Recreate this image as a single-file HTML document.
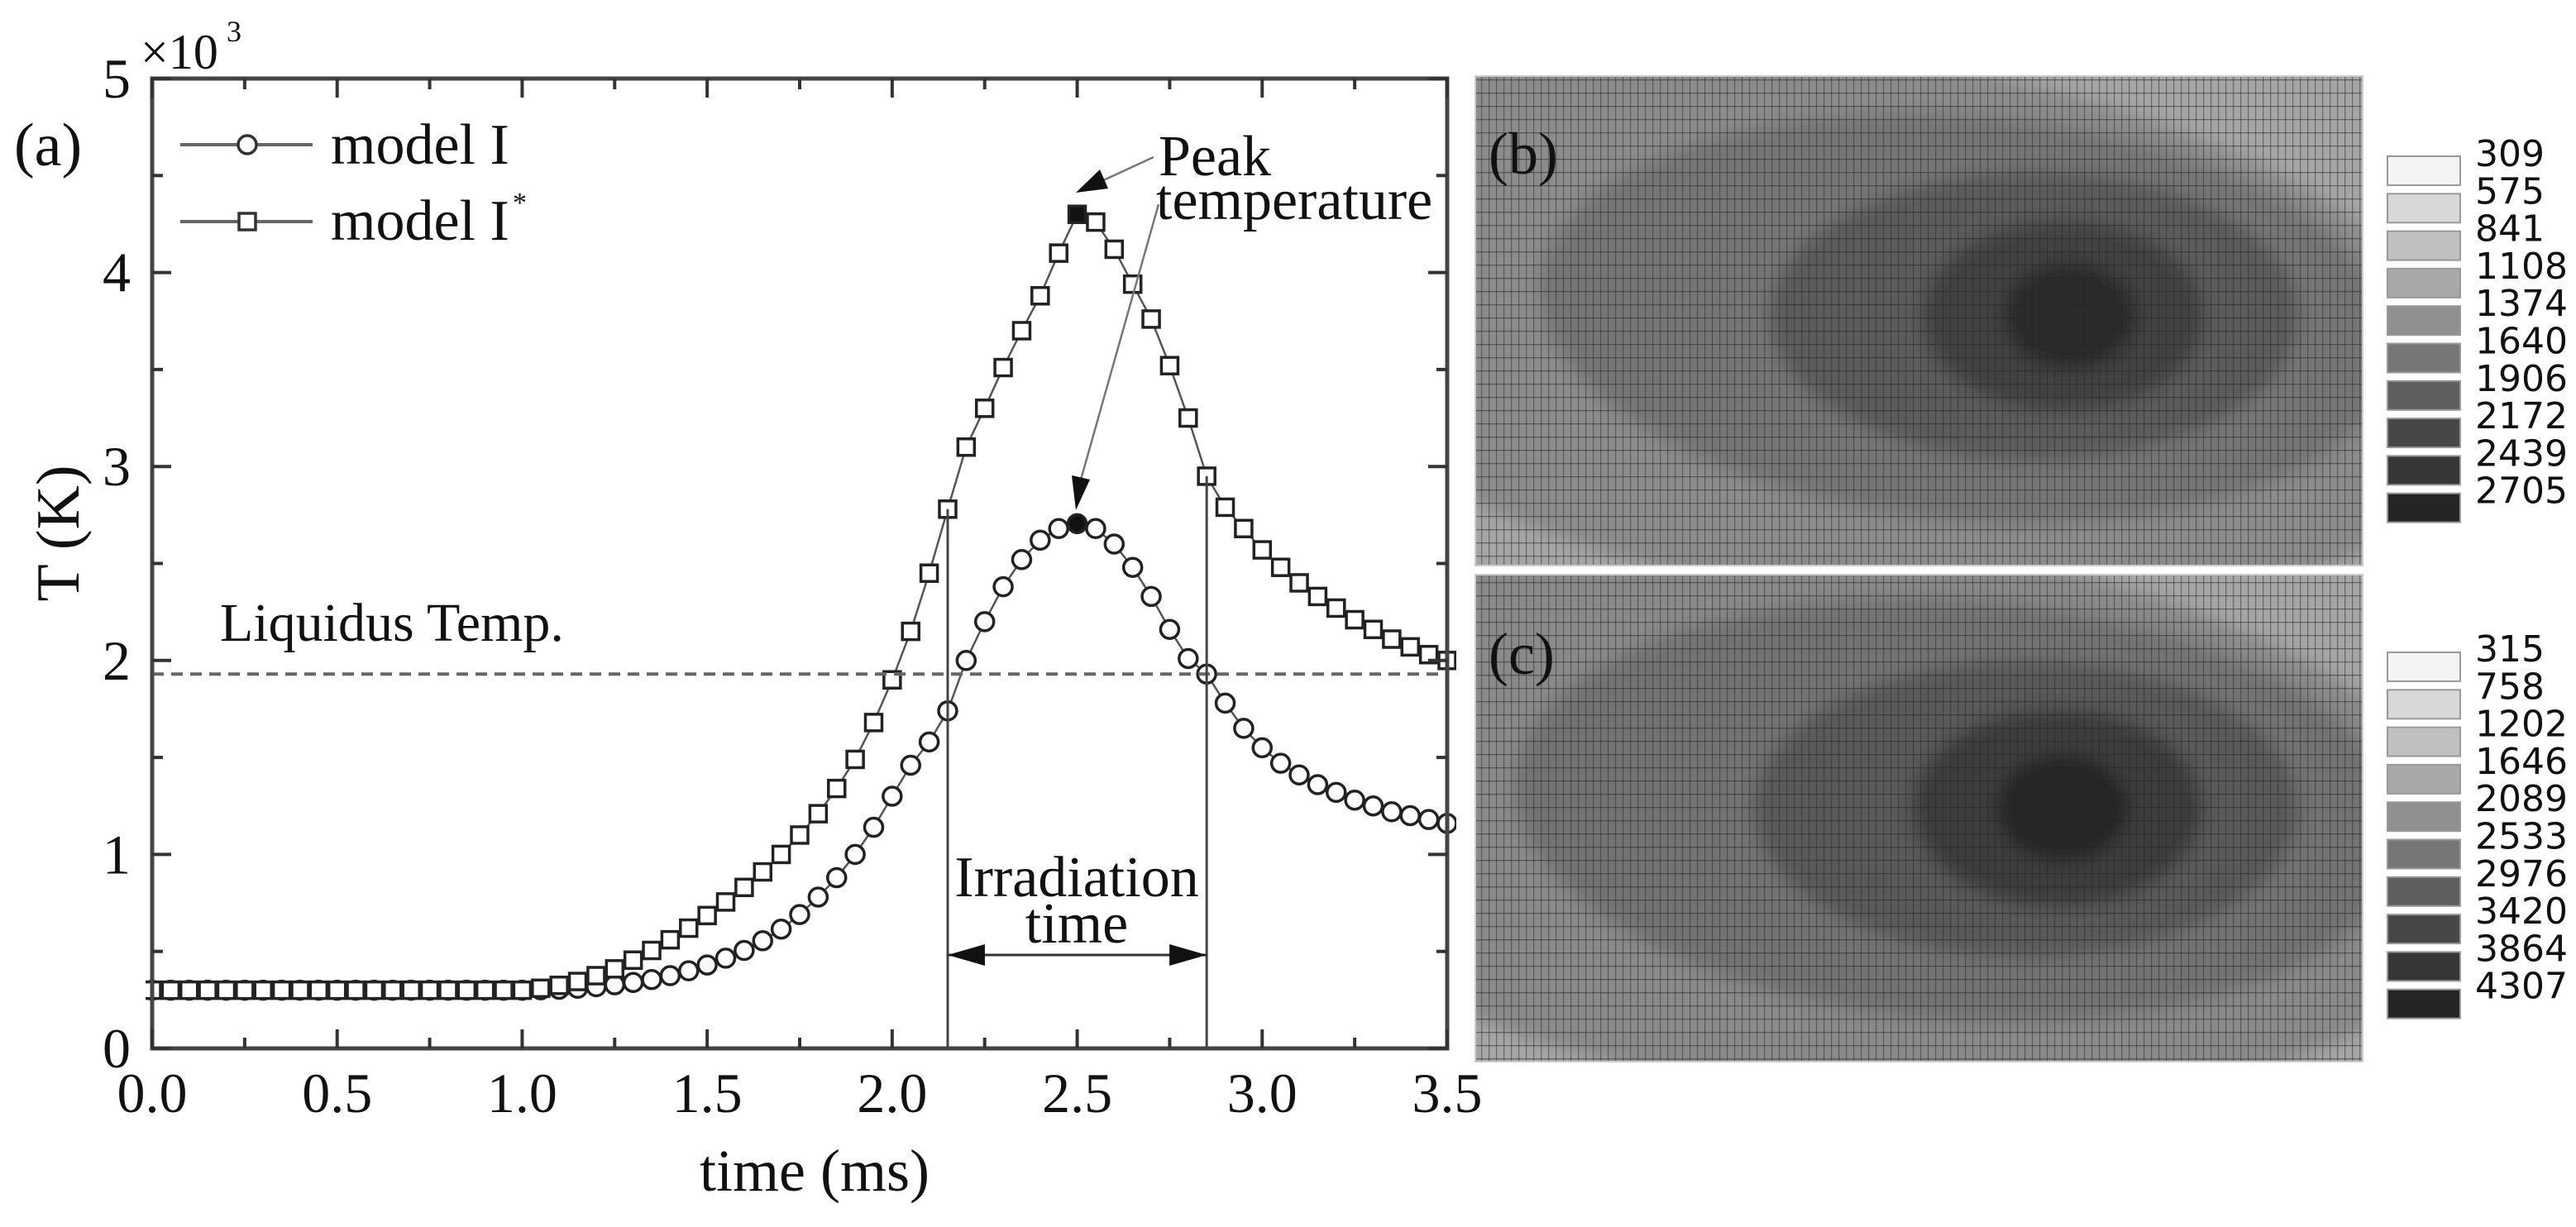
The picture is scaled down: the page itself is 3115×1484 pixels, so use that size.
<!DOCTYPE html>
<html><head><meta charset="utf-8">
<style>
html,body{margin:0;padding:0;background:#fff;}
svg{display:block;}
text{font-family:"Liberation Serif",serif;fill:#111;}
.mono{font-family:"DejaVu Sans","Liberation Sans",sans-serif;}
</style></head>
<body>
<svg id="fig" width="3115" height="1484" viewBox="0 0 3115 1484" xmlns="http://www.w3.org/2000/svg">
<defs>
  <pattern id="mesh" width="9" height="16" patternUnits="userSpaceOnUse">
    <line x1="0.5" y1="0" x2="0.5" y2="16" stroke="#222" stroke-width="1.6" opacity="0.45"/>
    <line x1="0" y1="0.5" x2="9" y2="0.5" stroke="#222" stroke-width="1.6" opacity="0.5"/>
  </pattern>
  <filter id="soft"><feGaussianBlur stdDeviation="10"/></filter>
  <clipPath id="clipB"><rect x="1784" y="92" width="1073" height="592"/></clipPath>
  <clipPath id="clipC"><rect x="1784" y="695" width="1073" height="589"/></clipPath>
  <clipPath id="plotClip"><rect x="176" y="85" width="1585" height="1190"/></clipPath>
</defs>
<g id="chartA"></g>
<g id="panelB" clip-path="url(#clipB)">
  <rect x="1784" y="92" width="1073" height="592" fill="#a6a6a6"/>
  <g filter="url(#soft)">
    <ellipse cx="2250" cy="400" rx="760" ry="330" fill="#8c8c8c" transform="rotate(8 2250 400)"/>
    <ellipse cx="2380" cy="385" rx="520" ry="245" fill="#767676" transform="rotate(5 2380 385)"/>
    <ellipse cx="2460" cy="382" rx="320" ry="175" fill="#5c5c5c"/>
    <ellipse cx="2495" cy="382" rx="170" ry="115" fill="#424242"/>
    <ellipse cx="2503" cy="382" rx="80" ry="65" fill="#2a2a2a"/>
  </g>
  <rect x="1784" y="92" width="1073" height="592" fill="url(#mesh)"/>
</g>
<rect x="1784" y="92" width="1073" height="592" fill="none" stroke="#ccc" stroke-width="2"/>
<g id="panelC" clip-path="url(#clipC)">
  <rect x="1784" y="695" width="1073" height="589" fill="#a6a6a6"/>
  <g filter="url(#soft)">
    <ellipse cx="2230" cy="990" rx="780" ry="340" fill="#8a8a8a" transform="rotate(6 2230 990)"/>
    <ellipse cx="2370" cy="980" rx="540" ry="255" fill="#737373" transform="rotate(4 2370 980)"/>
    <ellipse cx="2450" cy="978" rx="330" ry="180" fill="#5a5a5a"/>
    <ellipse cx="2488" cy="977" rx="175" ry="120" fill="#3e3e3e"/>
    <ellipse cx="2495" cy="977" rx="80" ry="65" fill="#262626"/>
  </g>
  <rect x="1784" y="695" width="1073" height="589" fill="url(#mesh)"/>
</g>
<rect x="1784" y="695" width="1073" height="589" fill="none" stroke="#ccc" stroke-width="2"/>
<text x="1800" y="210" font-size="72">(b)</text>
<text x="1800" y="815" font-size="72">(c)</text>
<g id="legB"></g>
<g id="legC"></g>
</svg>
<script>
const times = [];
for (let i = 0; i <= 70; i++) times.push(+(i * 0.05).toFixed(2));
const modelI = [300,300,300,300,300,300,300,300,300,300,300,300,300,300,300,300,300,300,300,300,300,
 302,305,310,318,328,340,355,375,400,430,465,505,555,615,690,780,880,1000,1140,1300,1460,1580,1740,2000,2200,2380,2520,2620,2680,2705,
 2680,2600,2480,2330,2160,2010,1930,1780,1650,1550,1470,1410,1360,1320,1280,1250,1220,1200,1180,1160];
const modelIstar = [300,300,300,300,300,300,300,300,300,300,300,300,300,300,300,300,300,300,300,300,300,
 310,325,345,375,410,455,505,560,620,685,755,830,910,1000,1100,1210,1340,1490,1680,1900,2150,2450,2780,3100,3300,3510,3700,3880,4100,4300,
 4260,4120,3940,3760,3520,3250,2950,2790,2680,2570,2480,2400,2330,2270,2210,2160,2110,2070,2030,2000];
const xTicks = [0,0.5,1,1.5,2,2.5,3,3.5];
const xTickLabels = ["0.0","0.5","1.0","1.5","2.0","2.5","3.0","3.5"];
const yTicks = [0,1000,2000,3000,4000,5000];
const yTickLabels = ["0","1","2","3","4","5"];
const liquidus = 1930;
const irrStart = 2.15, irrEnd = 2.85, peakTime = 2.5;
const legendB = ["309","575","841","1108","1374","1640","1906","2172","2439","2705"];
const legendC = ["315","758","1202","1646","2089","2533","2976","3420","3864","4307"];
const legendGrays = ["#f4f4f4","#d8d8d8","#c0c0c0","#a8a8a8","#909090","#767676","#5e5e5e","#474747","#363636","#252525"];

const NS = "http://www.w3.org/2000/svg";
const X0 = 184, X1 = 1750, Y0 = 1268, Y1 = 95;
const xs = t => X0 + (t / 3.5) * (X1 - X0);
const ys = v => Y0 - (v / 5000) * (Y0 - Y1);
function mk(tag, attrs, parent) {
  const e = document.createElementNS(NS, tag);
  for (const k in attrs) e.setAttribute(k, attrs[k]);
  parent.appendChild(e);
  return e;
}
const g = document.getElementById("chartA");
const plot = mk("g", {"clip-path": "url(#plotClip)"}, g);

const lq = mk("line", {x1: X0, x2: X1, y1: ys(liquidus), y2: ys(liquidus), stroke: "#666", "stroke-width": 4, "stroke-dasharray": "14 9"}, g);



function series(vals, shape, name) {
  const sg = mk("g", {}, plot);
  
  
  const d = vals.map((v, i) => (i ? "L" : "M") + xs(times[i]).toFixed(1) + " " + ys(v).toFixed(1)).join(" ");
  mk("path", {d: d, fill: "none", stroke: "#555", "stroke-width": 2.5}, sg);
  vals.forEach((v, i) => {
    const cx = xs(times[i]), cy = ys(v);
    const filled = times[i] === peakTime;
    let m;
    if (shape === "circle") m = mk("circle", {cx: cx, cy: cy, r: 11, fill: filled ? "#111" : "#fff", stroke: "#222", "stroke-width": 3.5}, sg);
    else m = mk("rect", {x: cx - 10, y: cy - 10, width: 20, height: 20, fill: filled ? "#111" : "#fff", stroke: "#222", "stroke-width": 3.5}, sg);
    
    
  });
}
series(modelI, "circle", "series-model-i");
series(modelIstar, "square", "series-model-i-star");

const idxS = times.findIndex(t => Math.abs(t - irrStart) < 1e-6);
const idxE = times.findIndex(t => Math.abs(t - irrEnd) < 1e-6);
[[irrStart, modelIstar[idxS]], [irrEnd, modelIstar[idxE]]].forEach(([t, v], k) => {
  const l = mk("line", {x1: xs(t), x2: xs(t), y1: Y0, y2: ys(v), stroke: "#444", "stroke-width": 3}, g);
  
  
});
const ay = 1155;
const arr = mk("g", {}, g);


mk("line", {x1: xs(irrStart), x2: xs(irrEnd), y1: ay, y2: ay, stroke: "#333", "stroke-width": 3}, arr);
mk("path", {d: `M${xs(irrStart)} ${ay} l45 -13 l0 26 z`, fill: "#111"}, arr);
mk("path", {d: `M${xs(irrEnd)} ${ay} l-45 -13 l0 26 z`, fill: "#111"}, arr);

const ax = mk("g", {}, g);


mk("rect", {x: X0, y: Y1, width: X1 - X0, height: Y0 - Y1, fill: "none", stroke: "#444", "stroke-width": 5}, ax);
for (let t = 0; t <= 3.5001; t += 0.25) {
  const major = Math.abs(t * 2 - Math.round(t * 2)) < 1e-6;
  const L = major ? 23 : 13, x = xs(t);
  mk("line", {x1: x, x2: x, y1: Y0, y2: Y0 - L, stroke: "#333", "stroke-width": 4}, ax);
  mk("line", {x1: x, x2: x, y1: Y1, y2: Y1 + L, stroke: "#333", "stroke-width": 4}, ax);
}
for (let v = 0; v <= 5000; v += 500) {
  const major = v % 1000 === 0;
  const L = major ? 23 : 13, y = ys(v);
  mk("line", {x1: X0, x2: X0 + L, y1: y, y2: y, stroke: "#333", "stroke-width": 4}, ax);
  mk("line", {x1: X1, x2: X1 - L, y1: y, y2: y, stroke: "#333", "stroke-width": 4}, ax);
}
xTicks.forEach((t, i) => {
  const tx = mk("text", {x: xs(t), y: 1345, "font-size": 68, "text-anchor": "middle"}, g);
  tx.textContent = xTickLabels[i];
  
  
});
yTicks.forEach((v, i) => {
  const tx = mk("text", {x: 158, y: ys(v) + 23, "font-size": 68, "text-anchor": "end"}, g);
  tx.textContent = yTickLabels[i];
  
  
});

function contourLegend(id, labels, boxTop, labTop) {
  const lg = document.getElementById(id);
  labels.forEach((lab, i) => {
    const r = mk("rect", {x: 2887, y: boxTop + i * 45.3, width: 88, height: 35, fill: legendGrays[i], stroke: "#999", "stroke-width": 2}, lg);
    
    
    const t = mk("text", {x: 2993, y: labTop + i * 45.3 + 16, "font-size": 44, class: "mono"}, lg);
    t.textContent = lab;
    
    
  });
}
contourLegend("legB", legendB, 189, 185);
contourLegend("legC", legendC, 789, 784);
</script>
<script>
(function(){
const NS = "http://www.w3.org/2000/svg";
const fig = document.getElementById("fig");
function t(x,y,s,txt,name,extra){const e=document.createElementNS(NS,"text");e.setAttribute("x",x);e.setAttribute("y",y);e.setAttribute("font-size",s);if(extra)for(const k in extra)e.setAttribute(k,extra[k]);e.textContent=txt;


fig.appendChild(e);return e;}
t(985,1440,72,"time (ms)","x-axis-title",{"text-anchor":"middle"});
t(95,645,74,"T (K)","y-axis-title",{"text-anchor":"middle",transform:"rotate(-90 95 645)"});
t(17,200,74,"(a)","panel-a-label");
t(170,83,60,"×10","axis-multiplier");
t(274,50,36,"3","axis-multiplier-exponent");
t(266,775,66,"Liquidus Temp.","liquidus-label");
t(1401,212,70,"Peak","peak-label-line1");
t(1398,265,70,"temperature","peak-label-line2");
t(1302,1084,70,"Irradiation","irradiation-label-line1",{"text-anchor":"middle"});
t(1302,1140,70,"time","irradiation-label-line2",{"text-anchor":"middle"});
t(400,198,70,"model I","legend-label-model-i");
t(400,290,70,"model I","legend-label-model-i-star");
t(620,256,34,"*","legend-star");
function ln(a){const e=document.createElementNS(NS,a.tag);for(const k in a)if(k!=="tag")e.setAttribute(k,a[k]);fig.appendChild(e);return e;}
const l1=ln({tag:"line",x1:218,x2:378,y1:175,y2:175,stroke:"#666","stroke-width":4});

const c1=ln({tag:"circle",cx:299,cy:175,r:11,fill:"#fff",stroke:"#333","stroke-width":3.5});

const l2=ln({tag:"line",x1:218,x2:378,y1:268,y2:268,stroke:"#666","stroke-width":4});

const s2=ln({tag:"rect",x:289,y:258,width:20,height:20,fill:"#fff",stroke:"#333","stroke-width":3.5});

const a1=ln({tag:"line",x1:1395,y1:190,x2:1330,y2:220,stroke:"#777","stroke-width":2.5});

const h1=ln({tag:"path",d:"M1301 233 L1330 205 L1340 228 Z",fill:"#111"});

const a2=ln({tag:"line",x1:1401,y1:247,x2:1307,y2:580,stroke:"#777","stroke-width":2.5});

const h2=ln({tag:"path",d:"M1301 617 L1296 575 L1318 580 Z",fill:"#111"});

})();
</script>
</body></html>
